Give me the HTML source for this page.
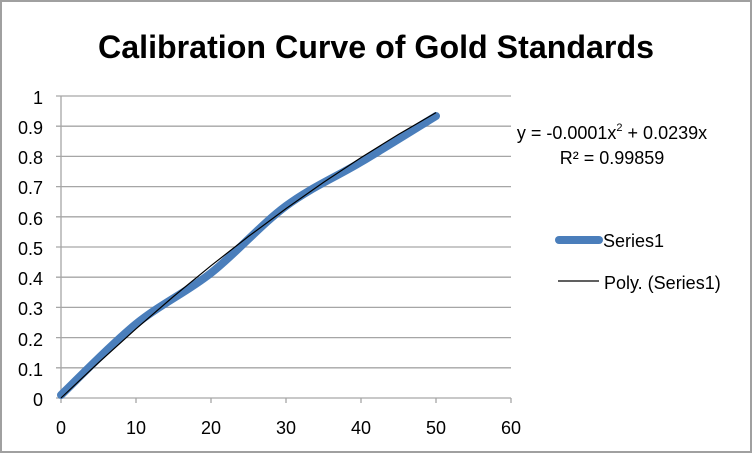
<!DOCTYPE html>
<html><head><style>
body{margin:0;background:#fff;}
svg{display:block;font-family:"Liberation Sans",sans-serif;}
</style></head><body>
<svg width="752" height="453" xmlns="http://www.w3.org/2000/svg">
<rect x="0.5" y="0.5" width="751" height="452" fill="#fff" stroke="#a0a0a0" stroke-width="3"/>
<text x="376" y="58" text-anchor="middle" font-size="32" font-weight="bold" fill="#000" textLength="556" lengthAdjust="spacingAndGlyphs">Calibration Curve of Gold Standards</text>
<g stroke="#a6a6a6" stroke-width="1.3">
<line x1="56" y1="96" x2="511" y2="96"/><line x1="56" y1="126.2" x2="511" y2="126.2"/>
<line x1="56" y1="156.4" x2="511" y2="156.4"/><line x1="56" y1="186.6" x2="511" y2="186.6"/>
<line x1="56" y1="216.8" x2="511" y2="216.8"/><line x1="56" y1="247" x2="511" y2="247"/>
<line x1="56" y1="277.2" x2="511" y2="277.2"/><line x1="56" y1="307.4" x2="511" y2="307.4"/>
<line x1="56" y1="337.6" x2="511" y2="337.6"/><line x1="56" y1="367.8" x2="511" y2="367.8"/>
<line x1="56" y1="398" x2="511" y2="398"/>
<line x1="61" y1="96" x2="61" y2="403"/>
<line x1="136" y1="398" x2="136" y2="403"/><line x1="211" y1="398" x2="211" y2="403"/>
<line x1="286" y1="398" x2="286" y2="403"/><line x1="361" y1="398" x2="361" y2="403"/>
<line x1="436" y1="398" x2="436" y2="403"/><line x1="511" y1="398" x2="511" y2="403"/>
</g>
<g font-size="18" fill="#000" text-anchor="end">
<text x="43" y="104">1</text><text x="43" y="134">0.9</text><text x="43" y="164">0.8</text>
<text x="43" y="194">0.7</text><text x="43" y="225">0.6</text><text x="43" y="255">0.5</text>
<text x="43" y="285">0.4</text><text x="43" y="315">0.3</text><text x="43" y="346">0.2</text>
<text x="43" y="376">0.1</text><text x="43" y="406">0</text>
</g>
<g font-size="18" fill="#000" text-anchor="middle">
<text x="61" y="434">0</text><text x="136" y="434">10</text><text x="211" y="434">20</text>
<text x="286" y="434">30</text><text x="361" y="434">40</text><text x="436" y="434">50</text><text x="511" y="434">60</text>
</g>
<path d="M61,395 C73.5,383.2 111,344.3 136,324 C161,303.7 186,292.7 211,273 C236,253.3 261,224.5 286,206 C311,187.5 336,177 361,162 C386,147 423.5,123.7 436,116" fill="none" stroke="#4a7ebb" stroke-width="8" stroke-linecap="round"/>
<polyline points="61,398 98.5,362.7 136,328.8 173.5,296.5 211,265.7 248.5,236.4 286,208.6 323.5,182.4 361,157.6 398.5,134.4 436,112.6" fill="none" stroke="#000" stroke-width="1.2"/>
<text x="612" y="139" text-anchor="middle" font-size="18" fill="#000">y = -0.0001x<tspan font-size="11" dy="-8">2</tspan><tspan dy="8"> + 0.0239x</tspan></text>
<text x="612" y="164" text-anchor="middle" font-size="18" fill="#000">R² = 0.99859</text>
<line x1="559" y1="240" x2="599" y2="240" stroke="#4a7ebb" stroke-width="8" stroke-linecap="round"/>
<text x="603" y="247" font-size="18" fill="#000">Series1</text>
<line x1="558" y1="281" x2="599" y2="281" stroke="#000" stroke-width="1.2"/>
<text x="604" y="289" font-size="18" fill="#000">Poly. (Series1)</text>
</svg>
</body></html>
